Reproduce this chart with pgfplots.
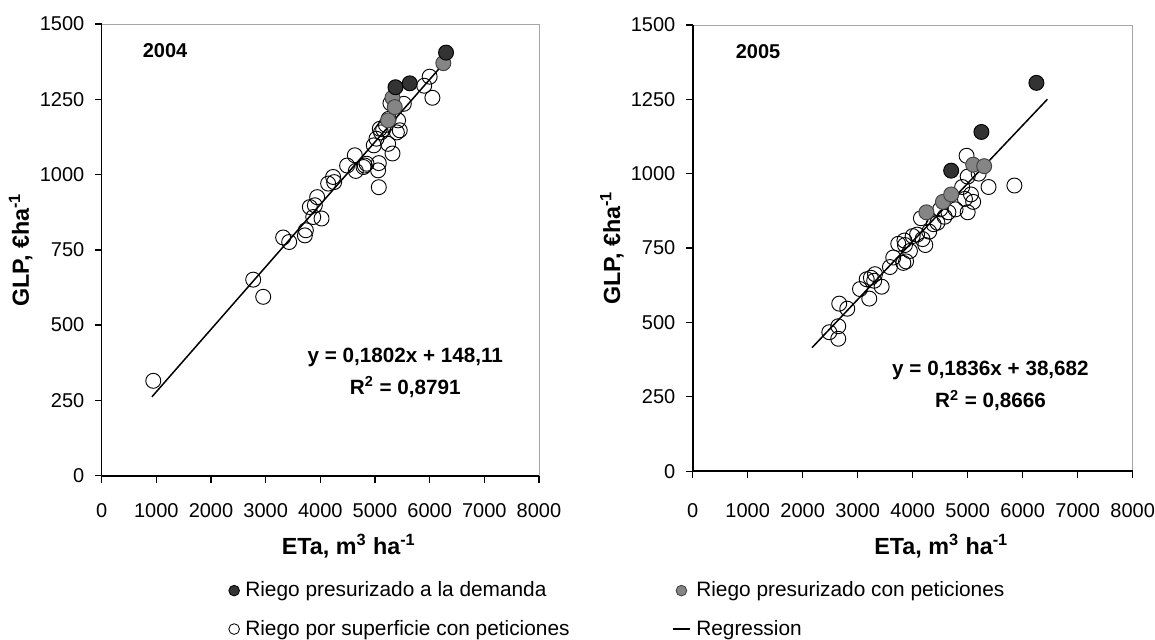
\documentclass[border=0pt]{standalone}
\usepackage{fontspec}
\setmainfont{Liberation Sans}
\usepackage{pgfplots}
\pgfplotsset{compat=1.18}
\definecolor{dkpt}{HTML}{333333}
\definecolor{gypt}{HTML}{858585}

\tikzset{labfont/.style={font=\bfseries\fontsize{14}{16}\selectfont}}
\pgfplotsset{
  glp/.style={
    scale only axis, clip=false,
    xmin=0, xmax=8000, ymin=0, ymax=1500,
    xtick={0,1000,...,8000}, ytick={0,250,...,1500},
    axis line style={draw=gray!70, line width=0.4pt},
    tick pos=left, tick align=outside, major tick length=4.2pt,
    tick style={black, line width=0.8pt},
    /pgf/number format/assume math mode=true,
    /pgf/number format/1000 sep={},
    scaled ticks=false,
    ticklabel style={font=\fontsize{12}{14}\selectfont},
    yticklabel style={xshift=-2.7pt},
    xlabel={ETa, m\textsuperscript{3} ha\textsuperscript{-1}},
    ylabel={GLP, €ha\textsuperscript{-1}},
    legend cell align=left,
    legend style={draw=none, fill=none, inner sep=0pt, row sep=10.5pt,
      nodes={inner sep=1pt},
      /tikz/every odd column/.style={column sep=2.5pt},
      font=\fontsize{12.5}{15}\selectfont, anchor=north west},
  },
  openpt/.style={only marks, mark=o, mark size=4.5pt,
    mark options={draw=black, line width=0.55pt}, forget plot},
  graypt/.style={only marks, mark=*, mark size=4.5pt,
    mark options={fill=gypt, draw=black!75, line width=0.55pt}, forget plot},
  darkpt/.style={only marks, mark=*, mark size=4.5pt,
    mark options={fill=dkpt, draw=black, line width=0.55pt}, forget plot},
  regline/.style={black, line width=0.9pt, forget plot},
  marklegend/.style={legend image code/.code={\draw[##1] plot coordinates {(0pt,0pt)};}},
  linelegend/.style={legend image code/.code={\draw[##1] (-5pt,0pt) -- (5pt,0pt);}},
}

\begin{document}
\begin{tikzpicture}
\useasboundingbox (0,0) rectangle (693pt,383.4pt);

% ---- 2004 ----
\begin{axis}[glp,
  at={(61pt,98pt)}, anchor=south west,
  width=262.4pt, height=271pt,
  xticklabel style={yshift=-9.2pt},
  every axis x label/.style={at={(axis description cs:0.565,-0.156)}, anchor=center, labfont},
  every axis y label/.style={at={(axis description cs:-0.185,0.5)}, anchor=center, rotate=90, labfont},
  legend style={at={(axis description cs:0.290,-0.2306)}},
]
\addlegendimage{only marks, mark=*, mark size=3.2pt, mark options={fill=dkpt, draw=black, line width=0.5pt}, marklegend}
\addlegendentry{Riego presurizado a la demanda}
\addlegendimage{only marks, mark=o, mark size=3.2pt, mark options={draw=black, line width=0.5pt}, marklegend}
\addlegendentry{Riego por superficie con peticiones}

\addplot[openpt] coordinates {
(944,315) (2772,651) (2955,594) (3320,791) (3430,776) (3717,798) (3735,815)
(3808,892) (3870,859) (3900,898) (3942,925) (4022,854) (4143,970) (4234,992)
(4253,975) (4490,1030) (4631,1064) (4649,1012) (4790,1025) (4813,1030) (4845,1036)
(4978,1097) (5027,1119) (5057,1014) (5070,958) (5070,1038) (5088,1152) (5110,1140)
(5150,1150) (5200,1165) (5240,1102) (5250,1185) (5283,1237) (5320,1070) (5400,1140)
(5422,1180) (5453,1147) (5527,1235) (5900,1295) (6000,1325) (6050,1255)
};
\addplot[regline] coordinates {(920,262) (6300,1378)};
\addplot[graypt] coordinates {(5240,1180) (5320,1255) (5362,1224) (6250,1370)};
\addplot[darkpt] coordinates {(5375,1290) (5636,1303) (6300,1405)};

\draw[black, line width=1pt] (rel axis cs:0,1) -- (rel axis cs:0,0) -- (rel axis cs:1,0);
\node[anchor=west, font=\bfseries\fontsize{12}{14}\selectfont] at (axis cs:645,1412) {2004};
\node[align=center, font=\bfseries\fontsize{12.4}{19}\selectfont] at (axis cs:5554,342)
  {y = 0,1802x + 148,11\\R\textsuperscript{2} = 0,8791};
\end{axis}

% ---- 2005 ----
\begin{axis}[glp,
  at={(415.6pt,100.7pt)}, anchor=south west,
  width=264pt, height=267.8pt,
  xticklabel style={yshift=-11.8pt},
  every axis x label/.style={at={(axis description cs:0.565,-0.168)}, anchor=center, labfont},
  every axis y label/.style={at={(axis description cs:-0.1834,0.5)}, anchor=center, rotate=90, labfont},
  legend style={at={(axis description cs:-0.047,-0.2435)}},
]
\addlegendimage{only marks, mark=*, mark size=3.2pt, mark options={fill=gypt, draw=black!75, line width=0.5pt}, marklegend}
\addlegendentry{Riego presurizado con peticiones}
\addlegendimage{black, line width=0.9pt, linelegend}
\addlegendentry{Regression}

\addplot[openpt] coordinates {
(2484,467) (2647,487) (2647,445) (2665,563) (2811,546) (3042,612) (3164,645)
(3211,580) (3240,650) (3300,640) (3315,662) (3436,620) (3587,686) (3647,718)
(3738,764) (3830,700) (3850,775) (3860,760) (3880,705) (3950,740) (4000,790)
(4080,795) (4150,850) (4180,780) (4230,760) (4300,805) (4380,830) (4450,835)
(4500,880) (4580,855) (4650,870) (4780,880) (4900,955) (4950,915) (4980,1060)
(5000,990) (5000,870) (5060,930) (5100,905) (5200,1000) (5380,955) (5850,960)
};
\addplot[regline] coordinates {(2170,415) (6450,1250)};
\addplot[graypt] coordinates {(4250,870) (4550,905) (4700,930) (5100,1030) (5300,1025)};
\addplot[darkpt] coordinates {(4700,1010) (5250,1140) (6250,1305)};

\draw[black, line width=1pt] (rel axis cs:0,1) -- (rel axis cs:0,0) -- (rel axis cs:1,0);
\node[anchor=west, font=\bfseries\fontsize{12}{14}\selectfont] at (axis cs:678,1411) {2005};
\node[align=center, font=\bfseries\fontsize{12.4}{19}\selectfont] at (axis cs:5415,286)
  {y = 0,1836x + 38,682\\R\textsuperscript{2} = 0,8666};
\end{axis}
\end{tikzpicture}
\end{document}
